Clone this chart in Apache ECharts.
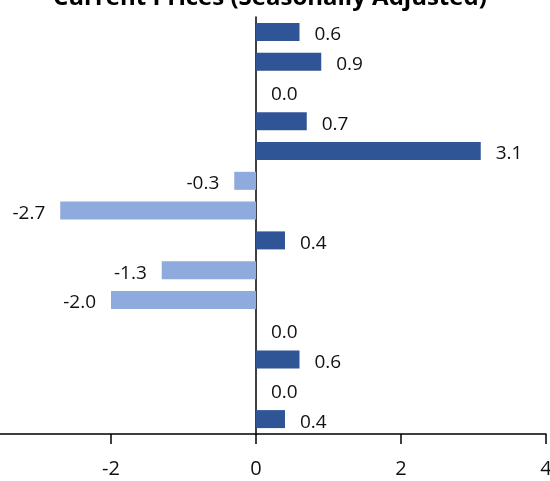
<!DOCTYPE html>
<html>
<head>
<meta charset="utf-8">
<script src="https://cdn.jsdelivr.net/npm/echarts@6/dist/echarts.min.js"></script>
<style>
html,body{margin:0;padding:0;background:#fff;}
#chart{width:550px;height:481px;}
</style>
</head>
<body>
<div id="chart"></div>
<script>
const titleText = 'Current Prices (Seasonally Adjusted)';
const categories = ['c1','c2','c3','c4','c5','c6','c7','c8','c9','c10','c11','c12','c13','c14'];
const values = [0.6, 0.9, 0.0, 0.7, 3.1, -0.3, -2.7, 0.4, -1.3, -2.0, 0.0, 0.6, 0.0, 0.4];
const xTicks = [-4, -2, 0, 2, 4];

const posColor = '#2F5597';
const negColor = '#8FAADC';

const chart = echarts.init(document.getElementById('chart'));
const data = values.map(v => ({
  value: v,
  itemStyle: { color: v < 0 ? negColor : posColor },
  label: { position: v < 0 ? 'left' : 'right' }
}));

chart.setOption({
  animation: false,
  title: {
    text: titleText,
    left: 48,
    top: -19,
    textStyle: { fontFamily: 'Open Sans', fontSize: 24, fontWeight: 'bold', color: '#000' }
  },
  grid: { left: -34, right: 4, top: 17, bottom: 47, containLabel: false, outerBoundsMode: 'none' },
  xAxis: {
    type: 'value',
    min: xTicks[0],
    max: xTicks[xTicks.length - 1],
    interval: 2,
    axisLine: { show: true, lineStyle: { color: '#000', width: 1.5 } },
    axisTick: { show: true, length: 10, lineStyle: { color: '#000', width: 1.5 } },
    splitLine: { show: false },
    axisLabel: { fontFamily: 'Open Sans', fontSize: 20, color: '#111', margin: 25 }
  },
  yAxis: {
    type: 'category',
    data: categories,
    inverse: true,
    axisLine: { show: true, onZero: true, lineStyle: { color: '#000', width: 1.5 } },
    axisTick: { show: false },
    axisLabel: { show: false },
    splitLine: { show: false }
  },
  series: [{
    type: 'bar',
    data: data,
    barWidth: 18,
    label: {
      show: true,
      distance: 15,
      offset: [0, 3],
      fontFamily: 'Open Sans',
      fontSize: 19,
      color: '#111',
      formatter: p => p.value.toFixed(1)
    }
  }]
});
</script>
</body>
</html>
